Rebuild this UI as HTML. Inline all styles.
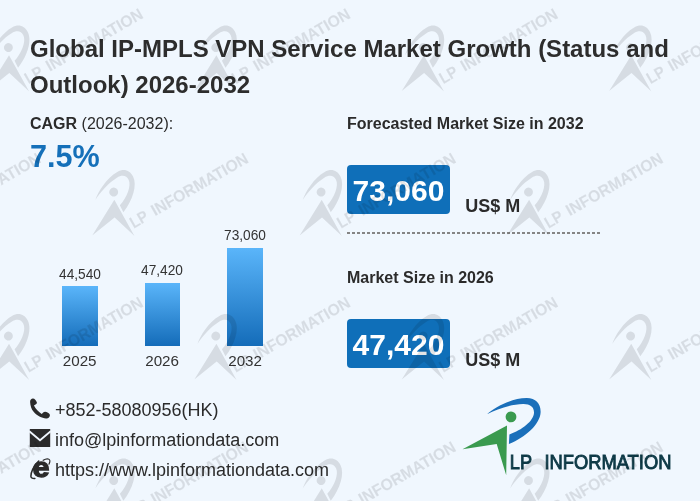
<!DOCTYPE html>
<html><head><meta charset="utf-8">
<style>
html,body{margin:0;padding:0;}
body{width:700px;height:501px;background:#f0f7fe;position:relative;overflow:hidden;font-family:"Liberation Sans",sans-serif;color:#2b2b2b;}
.abs{position:absolute;white-space:nowrap;}
.title{left:30px;top:30.65px;font-size:24px;font-weight:bold;line-height:36.7px;color:#2d2d2d;width:665px;white-space:normal;}
.cagr{left:30px;top:114.5px;font-size:16px;line-height:18px;}
.cagrv{left:30px;top:139px;font-size:30.6px;font-weight:bold;color:#1570b9;line-height:34px;}
.h2{font-size:16px;font-weight:bold;line-height:18px;color:#2b2b2b;}
.box{background:#0f6fb9;color:#fff;font-weight:bold;font-size:30px;border-radius:4px;width:103px;height:49px;line-height:51.4px;text-align:center;}
.unit{font-size:18px;font-weight:bold;line-height:20px;}
.dash{left:347px;top:232px;width:253px;height:2px;background:repeating-linear-gradient(90deg,#858585 0,#858585 3px,transparent 3px,transparent 5px);}
.bar{background:linear-gradient(#5ab5fa,#146cb9);width:35.5px;}
.lbl.yl{font-size:15.2px;transform:scaleX(1.0);}
.lbl{font-size:15.4px;color:#333;text-align:center;width:60px;line-height:16px;transform:scaleX(0.89);}
.ct{font-size:18px;left:54.9px;color:#2b2b2b;line-height:20px;}
svg.ov{position:absolute;left:0;top:0;}
</style></head><body>
<div class="abs title">Global IP-MPLS VPN Service Market Growth (Status and Outlook) 2026-2032</div>
<div class="abs cagr"><b>CAGR</b> (2026-2032):</div>
<div class="abs cagrv">7.5%</div>

<div class="abs h2" style="left:347px;top:115px;">Forecasted Market Size in 2032</div>
<div class="abs box" style="left:347px;top:165px;">73,060</div>
<div class="abs unit" style="left:465.3px;top:195.9px;">US$ M</div>
<div class="abs dash"></div>
<div class="abs h2" style="left:347px;top:268.9px;">Market Size in 2026</div>
<div class="abs box" style="left:347px;top:319px;">47,420</div>
<div class="abs unit" style="left:465.3px;top:349.9px;">US$ M</div>

<div class="abs bar" style="left:62px;top:286px;height:60.2px;"></div>
<div class="abs bar" style="left:144.5px;top:282.5px;height:63.7px;"></div>
<div class="abs bar" style="left:227.2px;top:247.8px;height:98.4px;"></div>
<div class="abs lbl" style="left:49.6px;top:265.5px;">44,540</div>
<div class="abs lbl" style="left:132.3px;top:261.5px;">47,420</div>
<div class="abs lbl" style="left:215px;top:227px;">73,060</div>
<div class="abs lbl yl" style="left:49.7px;top:352.6px;">2025</div>
<div class="abs lbl yl" style="left:132.1px;top:352.6px;">2026</div>
<div class="abs lbl yl" style="left:215.1px;top:352.6px;">2032</div>

<div class="abs ct" style="top:400px;">+852-58080956(HK)</div>
<div class="abs ct" style="top:430px;">info@lpinformationdata.com</div>
<div class="abs ct" style="top:460px;">https://www.lpinformationdata.com</div>

<svg class="ov" width="700" height="501" viewBox="0 0 700 501">
<!-- phone -->
<path transform="translate(25 393) scale(0.06386)" d="M80 140 C78 105 100 85 125 85 C150 85 175 115 186 148 C190 160 180 170 165 180 L140 196 C165 250 215 300 262 327 L285 305 C300 288 330 290 360 308 C385 322 395 340 388 360 C380 385 365 398 340 398 C270 402 190 360 135 295 C100 250 82 195 80 140 Z" fill="#2b2b2b"/>
<!-- mail -->
<rect x="29.8" y="429" width="20.4" height="18" fill="#2b2b2b"/>
<polyline points="29.3,431.3 40,440.3 50.7,431.3" fill="none" stroke="#f0f7fe" stroke-width="1.8"/>
<!-- ie -->
<g transform="translate(25 453) scale(0.06386)" fill="none" stroke="#2b2b2b" stroke-linecap="round"><path d="M155 398 C125 400 92 395 92 365 C92 310 130 200 215 125" stroke-width="24"/><path d="M285 115 C320 92 355 85 378 100 C395 112 390 145 375 175" stroke-width="18"/></g>
<text x="32.6" y="477.1" textLength="17" lengthAdjust="spacingAndGlyphs" font-family="Liberation Sans, sans-serif" font-weight="bold" font-size="28.5" fill="#2b2b2b" stroke="#2b2b2b" stroke-width="1.3">e</text>
<!-- logo -->
<path d="M487 414.2 C495 407 512 398 526.8 398.1 C536 398.2 541 404 540.6 412.4 C540 424 526 437 508.9 443.9 L509.4 434.5 C522 430 533.5 421 534 413 C534.3 407 530 403.8 523 404 C511 404.3 497 409 487 414.2 Z" fill="#1a6fba"/>
<circle cx="511" cy="416.9" r="5.4" fill="#3a9a4f"/>
<path d="M462.5 449.2 L507 425.4 L506.2 475.3 L496.7 443.9 Z" fill="#3a9a4f"/>
<g font-family="Liberation Sans, sans-serif" font-size="19.5" font-weight="normal" fill="#0e3a47" stroke="#0e3a47" stroke-width="0.9"><text x="509.8" y="469" textLength="22.2" lengthAdjust="spacingAndGlyphs">LP</text><text x="544.4" y="469" textLength="127" lengthAdjust="spacingAndGlyphs">INFORMATION</text></g>
</svg>
<svg class="ov" width="700" height="501" viewBox="0 0 700 501" opacity="0.1">
<g transform="translate(-177.4 85) rotate(-30) scale(0.83) translate(-511 -469)"><path d="M487 414.2 C495 407 512 398 526.8 398.1 C536 398.2 541 404 540.6 412.4 C540 424 526 437 508.9 443.9 L509.4 434.5 C522 430 533.5 421 534 413 C534.3 407 530 403.8 523 404 C511 404.3 497 409 487 414.2 Z" fill="#000"/>
<circle cx="511" cy="416.9" r="5.4" fill="#000"/>
<path d="M462.5 449.2 L507 425.4 L506.2 475.3 L496.7 443.9 Z" fill="#000"/>
<g font-family="Liberation Sans, sans-serif" font-size="19.5" font-weight="bold" fill="#000" stroke="#000" stroke-width="0.2"><text x="509.8" y="467.2" textLength="22.2" lengthAdjust="spacingAndGlyphs">LP</text><text x="539.5" y="467.2" textLength="131.5" lengthAdjust="spacingAndGlyphs">INFORMATION</text></g></g>
<g transform="translate(30.0 85) rotate(-30) scale(0.83) translate(-511 -469)"><path d="M487 414.2 C495 407 512 398 526.8 398.1 C536 398.2 541 404 540.6 412.4 C540 424 526 437 508.9 443.9 L509.4 434.5 C522 430 533.5 421 534 413 C534.3 407 530 403.8 523 404 C511 404.3 497 409 487 414.2 Z" fill="#000"/>
<circle cx="511" cy="416.9" r="5.4" fill="#000"/>
<path d="M462.5 449.2 L507 425.4 L506.2 475.3 L496.7 443.9 Z" fill="#000"/>
<g font-family="Liberation Sans, sans-serif" font-size="19.5" font-weight="bold" fill="#000" stroke="#000" stroke-width="0.2"><text x="509.8" y="467.2" textLength="22.2" lengthAdjust="spacingAndGlyphs">LP</text><text x="539.5" y="467.2" textLength="131.5" lengthAdjust="spacingAndGlyphs">INFORMATION</text></g></g>
<g transform="translate(237.4 85) rotate(-30) scale(0.83) translate(-511 -469)"><path d="M487 414.2 C495 407 512 398 526.8 398.1 C536 398.2 541 404 540.6 412.4 C540 424 526 437 508.9 443.9 L509.4 434.5 C522 430 533.5 421 534 413 C534.3 407 530 403.8 523 404 C511 404.3 497 409 487 414.2 Z" fill="#000"/>
<circle cx="511" cy="416.9" r="5.4" fill="#000"/>
<path d="M462.5 449.2 L507 425.4 L506.2 475.3 L496.7 443.9 Z" fill="#000"/>
<g font-family="Liberation Sans, sans-serif" font-size="19.5" font-weight="bold" fill="#000" stroke="#000" stroke-width="0.2"><text x="509.8" y="467.2" textLength="22.2" lengthAdjust="spacingAndGlyphs">LP</text><text x="539.5" y="467.2" textLength="131.5" lengthAdjust="spacingAndGlyphs">INFORMATION</text></g></g>
<g transform="translate(444.8 85) rotate(-30) scale(0.83) translate(-511 -469)"><path d="M487 414.2 C495 407 512 398 526.8 398.1 C536 398.2 541 404 540.6 412.4 C540 424 526 437 508.9 443.9 L509.4 434.5 C522 430 533.5 421 534 413 C534.3 407 530 403.8 523 404 C511 404.3 497 409 487 414.2 Z" fill="#000"/>
<circle cx="511" cy="416.9" r="5.4" fill="#000"/>
<path d="M462.5 449.2 L507 425.4 L506.2 475.3 L496.7 443.9 Z" fill="#000"/>
<g font-family="Liberation Sans, sans-serif" font-size="19.5" font-weight="bold" fill="#000" stroke="#000" stroke-width="0.2"><text x="509.8" y="467.2" textLength="22.2" lengthAdjust="spacingAndGlyphs">LP</text><text x="539.5" y="467.2" textLength="131.5" lengthAdjust="spacingAndGlyphs">INFORMATION</text></g></g>
<g transform="translate(652.2 85) rotate(-30) scale(0.83) translate(-511 -469)"><path d="M487 414.2 C495 407 512 398 526.8 398.1 C536 398.2 541 404 540.6 412.4 C540 424 526 437 508.9 443.9 L509.4 434.5 C522 430 533.5 421 534 413 C534.3 407 530 403.8 523 404 C511 404.3 497 409 487 414.2 Z" fill="#000"/>
<circle cx="511" cy="416.9" r="5.4" fill="#000"/>
<path d="M462.5 449.2 L507 425.4 L506.2 475.3 L496.7 443.9 Z" fill="#000"/>
<g font-family="Liberation Sans, sans-serif" font-size="19.5" font-weight="bold" fill="#000" stroke="#000" stroke-width="0.2"><text x="509.8" y="467.2" textLength="22.2" lengthAdjust="spacingAndGlyphs">LP</text><text x="539.5" y="467.2" textLength="131.5" lengthAdjust="spacingAndGlyphs">INFORMATION</text></g></g>
<g transform="translate(-72.1 229.5) rotate(-30) scale(0.83) translate(-511 -469)"><path d="M487 414.2 C495 407 512 398 526.8 398.1 C536 398.2 541 404 540.6 412.4 C540 424 526 437 508.9 443.9 L509.4 434.5 C522 430 533.5 421 534 413 C534.3 407 530 403.8 523 404 C511 404.3 497 409 487 414.2 Z" fill="#000"/>
<circle cx="511" cy="416.9" r="5.4" fill="#000"/>
<path d="M462.5 449.2 L507 425.4 L506.2 475.3 L496.7 443.9 Z" fill="#000"/>
<g font-family="Liberation Sans, sans-serif" font-size="19.5" font-weight="bold" fill="#000" stroke="#000" stroke-width="0.2"><text x="509.8" y="467.2" textLength="22.2" lengthAdjust="spacingAndGlyphs">LP</text><text x="539.5" y="467.2" textLength="131.5" lengthAdjust="spacingAndGlyphs">INFORMATION</text></g></g>
<g transform="translate(135.3 229.5) rotate(-30) scale(0.83) translate(-511 -469)"><path d="M487 414.2 C495 407 512 398 526.8 398.1 C536 398.2 541 404 540.6 412.4 C540 424 526 437 508.9 443.9 L509.4 434.5 C522 430 533.5 421 534 413 C534.3 407 530 403.8 523 404 C511 404.3 497 409 487 414.2 Z" fill="#000"/>
<circle cx="511" cy="416.9" r="5.4" fill="#000"/>
<path d="M462.5 449.2 L507 425.4 L506.2 475.3 L496.7 443.9 Z" fill="#000"/>
<g font-family="Liberation Sans, sans-serif" font-size="19.5" font-weight="bold" fill="#000" stroke="#000" stroke-width="0.2"><text x="509.8" y="467.2" textLength="22.2" lengthAdjust="spacingAndGlyphs">LP</text><text x="539.5" y="467.2" textLength="131.5" lengthAdjust="spacingAndGlyphs">INFORMATION</text></g></g>
<g transform="translate(342.7 229.5) rotate(-30) scale(0.83) translate(-511 -469)"><path d="M487 414.2 C495 407 512 398 526.8 398.1 C536 398.2 541 404 540.6 412.4 C540 424 526 437 508.9 443.9 L509.4 434.5 C522 430 533.5 421 534 413 C534.3 407 530 403.8 523 404 C511 404.3 497 409 487 414.2 Z" fill="#000"/>
<circle cx="511" cy="416.9" r="5.4" fill="#000"/>
<path d="M462.5 449.2 L507 425.4 L506.2 475.3 L496.7 443.9 Z" fill="#000"/>
<g font-family="Liberation Sans, sans-serif" font-size="19.5" font-weight="bold" fill="#000" stroke="#000" stroke-width="0.2"><text x="509.8" y="467.2" textLength="22.2" lengthAdjust="spacingAndGlyphs">LP</text><text x="539.5" y="467.2" textLength="131.5" lengthAdjust="spacingAndGlyphs">INFORMATION</text></g></g>
<g transform="translate(550.1 229.5) rotate(-30) scale(0.83) translate(-511 -469)"><path d="M487 414.2 C495 407 512 398 526.8 398.1 C536 398.2 541 404 540.6 412.4 C540 424 526 437 508.9 443.9 L509.4 434.5 C522 430 533.5 421 534 413 C534.3 407 530 403.8 523 404 C511 404.3 497 409 487 414.2 Z" fill="#000"/>
<circle cx="511" cy="416.9" r="5.4" fill="#000"/>
<path d="M462.5 449.2 L507 425.4 L506.2 475.3 L496.7 443.9 Z" fill="#000"/>
<g font-family="Liberation Sans, sans-serif" font-size="19.5" font-weight="bold" fill="#000" stroke="#000" stroke-width="0.2"><text x="509.8" y="467.2" textLength="22.2" lengthAdjust="spacingAndGlyphs">LP</text><text x="539.5" y="467.2" textLength="131.5" lengthAdjust="spacingAndGlyphs">INFORMATION</text></g></g>
<g transform="translate(757.5 229.5) rotate(-30) scale(0.83) translate(-511 -469)"><path d="M487 414.2 C495 407 512 398 526.8 398.1 C536 398.2 541 404 540.6 412.4 C540 424 526 437 508.9 443.9 L509.4 434.5 C522 430 533.5 421 534 413 C534.3 407 530 403.8 523 404 C511 404.3 497 409 487 414.2 Z" fill="#000"/>
<circle cx="511" cy="416.9" r="5.4" fill="#000"/>
<path d="M462.5 449.2 L507 425.4 L506.2 475.3 L496.7 443.9 Z" fill="#000"/>
<g font-family="Liberation Sans, sans-serif" font-size="19.5" font-weight="bold" fill="#000" stroke="#000" stroke-width="0.2"><text x="509.8" y="467.2" textLength="22.2" lengthAdjust="spacingAndGlyphs">LP</text><text x="539.5" y="467.2" textLength="131.5" lengthAdjust="spacingAndGlyphs">INFORMATION</text></g></g>
<g transform="translate(-177.4 373.5) rotate(-30) scale(0.83) translate(-511 -469)"><path d="M487 414.2 C495 407 512 398 526.8 398.1 C536 398.2 541 404 540.6 412.4 C540 424 526 437 508.9 443.9 L509.4 434.5 C522 430 533.5 421 534 413 C534.3 407 530 403.8 523 404 C511 404.3 497 409 487 414.2 Z" fill="#000"/>
<circle cx="511" cy="416.9" r="5.4" fill="#000"/>
<path d="M462.5 449.2 L507 425.4 L506.2 475.3 L496.7 443.9 Z" fill="#000"/>
<g font-family="Liberation Sans, sans-serif" font-size="19.5" font-weight="bold" fill="#000" stroke="#000" stroke-width="0.2"><text x="509.8" y="467.2" textLength="22.2" lengthAdjust="spacingAndGlyphs">LP</text><text x="539.5" y="467.2" textLength="131.5" lengthAdjust="spacingAndGlyphs">INFORMATION</text></g></g>
<g transform="translate(30.0 373.5) rotate(-30) scale(0.83) translate(-511 -469)"><path d="M487 414.2 C495 407 512 398 526.8 398.1 C536 398.2 541 404 540.6 412.4 C540 424 526 437 508.9 443.9 L509.4 434.5 C522 430 533.5 421 534 413 C534.3 407 530 403.8 523 404 C511 404.3 497 409 487 414.2 Z" fill="#000"/>
<circle cx="511" cy="416.9" r="5.4" fill="#000"/>
<path d="M462.5 449.2 L507 425.4 L506.2 475.3 L496.7 443.9 Z" fill="#000"/>
<g font-family="Liberation Sans, sans-serif" font-size="19.5" font-weight="bold" fill="#000" stroke="#000" stroke-width="0.2"><text x="509.8" y="467.2" textLength="22.2" lengthAdjust="spacingAndGlyphs">LP</text><text x="539.5" y="467.2" textLength="131.5" lengthAdjust="spacingAndGlyphs">INFORMATION</text></g></g>
<g transform="translate(237.4 373.5) rotate(-30) scale(0.83) translate(-511 -469)"><path d="M487 414.2 C495 407 512 398 526.8 398.1 C536 398.2 541 404 540.6 412.4 C540 424 526 437 508.9 443.9 L509.4 434.5 C522 430 533.5 421 534 413 C534.3 407 530 403.8 523 404 C511 404.3 497 409 487 414.2 Z" fill="#000"/>
<circle cx="511" cy="416.9" r="5.4" fill="#000"/>
<path d="M462.5 449.2 L507 425.4 L506.2 475.3 L496.7 443.9 Z" fill="#000"/>
<g font-family="Liberation Sans, sans-serif" font-size="19.5" font-weight="bold" fill="#000" stroke="#000" stroke-width="0.2"><text x="509.8" y="467.2" textLength="22.2" lengthAdjust="spacingAndGlyphs">LP</text><text x="539.5" y="467.2" textLength="131.5" lengthAdjust="spacingAndGlyphs">INFORMATION</text></g></g>
<g transform="translate(444.8 373.5) rotate(-30) scale(0.83) translate(-511 -469)"><path d="M487 414.2 C495 407 512 398 526.8 398.1 C536 398.2 541 404 540.6 412.4 C540 424 526 437 508.9 443.9 L509.4 434.5 C522 430 533.5 421 534 413 C534.3 407 530 403.8 523 404 C511 404.3 497 409 487 414.2 Z" fill="#000"/>
<circle cx="511" cy="416.9" r="5.4" fill="#000"/>
<path d="M462.5 449.2 L507 425.4 L506.2 475.3 L496.7 443.9 Z" fill="#000"/>
<g font-family="Liberation Sans, sans-serif" font-size="19.5" font-weight="bold" fill="#000" stroke="#000" stroke-width="0.2"><text x="509.8" y="467.2" textLength="22.2" lengthAdjust="spacingAndGlyphs">LP</text><text x="539.5" y="467.2" textLength="131.5" lengthAdjust="spacingAndGlyphs">INFORMATION</text></g></g>
<g transform="translate(652.2 373.5) rotate(-30) scale(0.83) translate(-511 -469)"><path d="M487 414.2 C495 407 512 398 526.8 398.1 C536 398.2 541 404 540.6 412.4 C540 424 526 437 508.9 443.9 L509.4 434.5 C522 430 533.5 421 534 413 C534.3 407 530 403.8 523 404 C511 404.3 497 409 487 414.2 Z" fill="#000"/>
<circle cx="511" cy="416.9" r="5.4" fill="#000"/>
<path d="M462.5 449.2 L507 425.4 L506.2 475.3 L496.7 443.9 Z" fill="#000"/>
<g font-family="Liberation Sans, sans-serif" font-size="19.5" font-weight="bold" fill="#000" stroke="#000" stroke-width="0.2"><text x="509.8" y="467.2" textLength="22.2" lengthAdjust="spacingAndGlyphs">LP</text><text x="539.5" y="467.2" textLength="131.5" lengthAdjust="spacingAndGlyphs">INFORMATION</text></g></g>
<g transform="translate(-72.1 518) rotate(-30) scale(0.83) translate(-511 -469)"><path d="M487 414.2 C495 407 512 398 526.8 398.1 C536 398.2 541 404 540.6 412.4 C540 424 526 437 508.9 443.9 L509.4 434.5 C522 430 533.5 421 534 413 C534.3 407 530 403.8 523 404 C511 404.3 497 409 487 414.2 Z" fill="#000"/>
<circle cx="511" cy="416.9" r="5.4" fill="#000"/>
<path d="M462.5 449.2 L507 425.4 L506.2 475.3 L496.7 443.9 Z" fill="#000"/>
<g font-family="Liberation Sans, sans-serif" font-size="19.5" font-weight="bold" fill="#000" stroke="#000" stroke-width="0.2"><text x="509.8" y="467.2" textLength="22.2" lengthAdjust="spacingAndGlyphs">LP</text><text x="539.5" y="467.2" textLength="131.5" lengthAdjust="spacingAndGlyphs">INFORMATION</text></g></g>
<g transform="translate(135.3 518) rotate(-30) scale(0.83) translate(-511 -469)"><path d="M487 414.2 C495 407 512 398 526.8 398.1 C536 398.2 541 404 540.6 412.4 C540 424 526 437 508.9 443.9 L509.4 434.5 C522 430 533.5 421 534 413 C534.3 407 530 403.8 523 404 C511 404.3 497 409 487 414.2 Z" fill="#000"/>
<circle cx="511" cy="416.9" r="5.4" fill="#000"/>
<path d="M462.5 449.2 L507 425.4 L506.2 475.3 L496.7 443.9 Z" fill="#000"/>
<g font-family="Liberation Sans, sans-serif" font-size="19.5" font-weight="bold" fill="#000" stroke="#000" stroke-width="0.2"><text x="509.8" y="467.2" textLength="22.2" lengthAdjust="spacingAndGlyphs">LP</text><text x="539.5" y="467.2" textLength="131.5" lengthAdjust="spacingAndGlyphs">INFORMATION</text></g></g>
<g transform="translate(342.7 518) rotate(-30) scale(0.83) translate(-511 -469)"><path d="M487 414.2 C495 407 512 398 526.8 398.1 C536 398.2 541 404 540.6 412.4 C540 424 526 437 508.9 443.9 L509.4 434.5 C522 430 533.5 421 534 413 C534.3 407 530 403.8 523 404 C511 404.3 497 409 487 414.2 Z" fill="#000"/>
<circle cx="511" cy="416.9" r="5.4" fill="#000"/>
<path d="M462.5 449.2 L507 425.4 L506.2 475.3 L496.7 443.9 Z" fill="#000"/>
<g font-family="Liberation Sans, sans-serif" font-size="19.5" font-weight="bold" fill="#000" stroke="#000" stroke-width="0.2"><text x="509.8" y="467.2" textLength="22.2" lengthAdjust="spacingAndGlyphs">LP</text><text x="539.5" y="467.2" textLength="131.5" lengthAdjust="spacingAndGlyphs">INFORMATION</text></g></g>
<g transform="translate(550.1 518) rotate(-30) scale(0.83) translate(-511 -469)"><path d="M487 414.2 C495 407 512 398 526.8 398.1 C536 398.2 541 404 540.6 412.4 C540 424 526 437 508.9 443.9 L509.4 434.5 C522 430 533.5 421 534 413 C534.3 407 530 403.8 523 404 C511 404.3 497 409 487 414.2 Z" fill="#000"/>
<circle cx="511" cy="416.9" r="5.4" fill="#000"/>
<path d="M462.5 449.2 L507 425.4 L506.2 475.3 L496.7 443.9 Z" fill="#000"/>
<g font-family="Liberation Sans, sans-serif" font-size="19.5" font-weight="bold" fill="#000" stroke="#000" stroke-width="0.2"><text x="509.8" y="467.2" textLength="22.2" lengthAdjust="spacingAndGlyphs">LP</text><text x="539.5" y="467.2" textLength="131.5" lengthAdjust="spacingAndGlyphs">INFORMATION</text></g></g>
<g transform="translate(757.5 518) rotate(-30) scale(0.83) translate(-511 -469)"><path d="M487 414.2 C495 407 512 398 526.8 398.1 C536 398.2 541 404 540.6 412.4 C540 424 526 437 508.9 443.9 L509.4 434.5 C522 430 533.5 421 534 413 C534.3 407 530 403.8 523 404 C511 404.3 497 409 487 414.2 Z" fill="#000"/>
<circle cx="511" cy="416.9" r="5.4" fill="#000"/>
<path d="M462.5 449.2 L507 425.4 L506.2 475.3 L496.7 443.9 Z" fill="#000"/>
<g font-family="Liberation Sans, sans-serif" font-size="19.5" font-weight="bold" fill="#000" stroke="#000" stroke-width="0.2"><text x="509.8" y="467.2" textLength="22.2" lengthAdjust="spacingAndGlyphs">LP</text><text x="539.5" y="467.2" textLength="131.5" lengthAdjust="spacingAndGlyphs">INFORMATION</text></g></g>
</svg>
</body></html>
